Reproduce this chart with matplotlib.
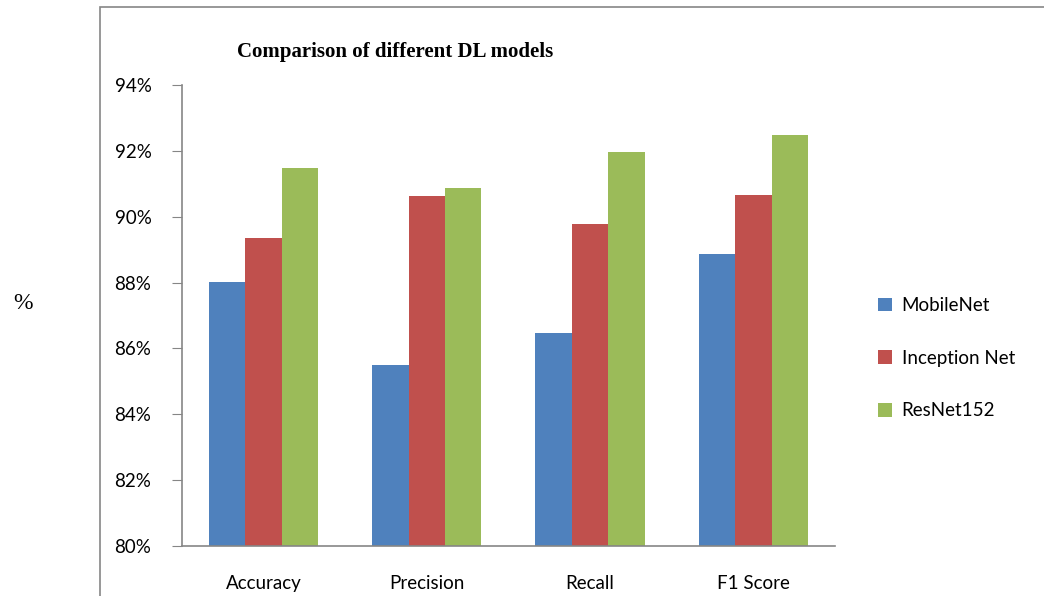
import matplotlib.pyplot as plt
import numpy as np
from matplotlib.patches import Rectangle

categories = ['Accuracy', 'Precision', 'Recall', 'F1 Score']
models = ['MobileNet', 'Inception Net', 'ResNet152']
mobilenet = [88.02, 85.5, 86.47, 88.87]
inception = [89.35, 90.63, 89.78, 90.66]
resnet = [91.48, 90.87, 91.96, 92.48]
yticks = [80, 82, 84, 86, 88, 90, 92, 94]
colors = ['#4f81bd', '#c0504d', '#9bbb59']

fig = plt.figure(figsize=(10.44, 5.96), dpi=100)
ax = fig.add_axes([0.1743, 0.0839, 0.6255, 0.7735])

x = np.arange(len(categories))
w = 0.223
for i, (vals, name) in enumerate(zip([mobilenet, inception, resnet], models)):
    ax.bar(x + (i - 1) * w, np.array(vals) - 80, bottom=80, width=w,
           color=colors[i], label=name)

ax.set_xlim(-0.5, 3.5)
ax.set_ylim(80, 94)
ax.set_yticks(yticks)
ax.set_yticklabels(['%d%%' % t for t in yticks], fontfamily='Lato', fontsize=13.5)
ax.set_xticks(x)
ax.set_xticklabels(categories, fontfamily='Lato', fontsize=13.5)
ax.tick_params(axis='y', direction='out', length=7, color='#868686', pad=15)
ax.tick_params(axis='x', length=0, pad=21)
for s in ['top', 'right']:
    ax.spines[s].set_visible(False)
for s in ['left', 'bottom']:
    ax.spines[s].set_color('#868686')
    ax.spines[s].set_linewidth(1.2)

fig.text(0.378, 0.912, 'Comparison of different DL models', fontfamily='Liberation Serif',
         fontweight='bold', fontsize=15, ha='center', va='center')
fig.text(0.022, 0.49, '%', fontfamily='Liberation Serif', fontsize=17, ha='center', va='center')

leg = ax.legend(loc='upper left', bbox_to_anchor=(0.825, 0.53), bbox_transform=fig.transFigure,
                frameon=False, handlelength=0.75, handleheight=0.75, labelspacing=1.9,
                handletextpad=0.5, prop={'family': 'Lato', 'size': 13.5})

fig.add_artist(Rectangle((100 / 1044, -0.1), 1.2, 1.1 - 7 / 596, transform=fig.transFigure,
                         fill=False, edgecolor='#868686', linewidth=1.2))

fig.savefig('out.png', dpi=100)
